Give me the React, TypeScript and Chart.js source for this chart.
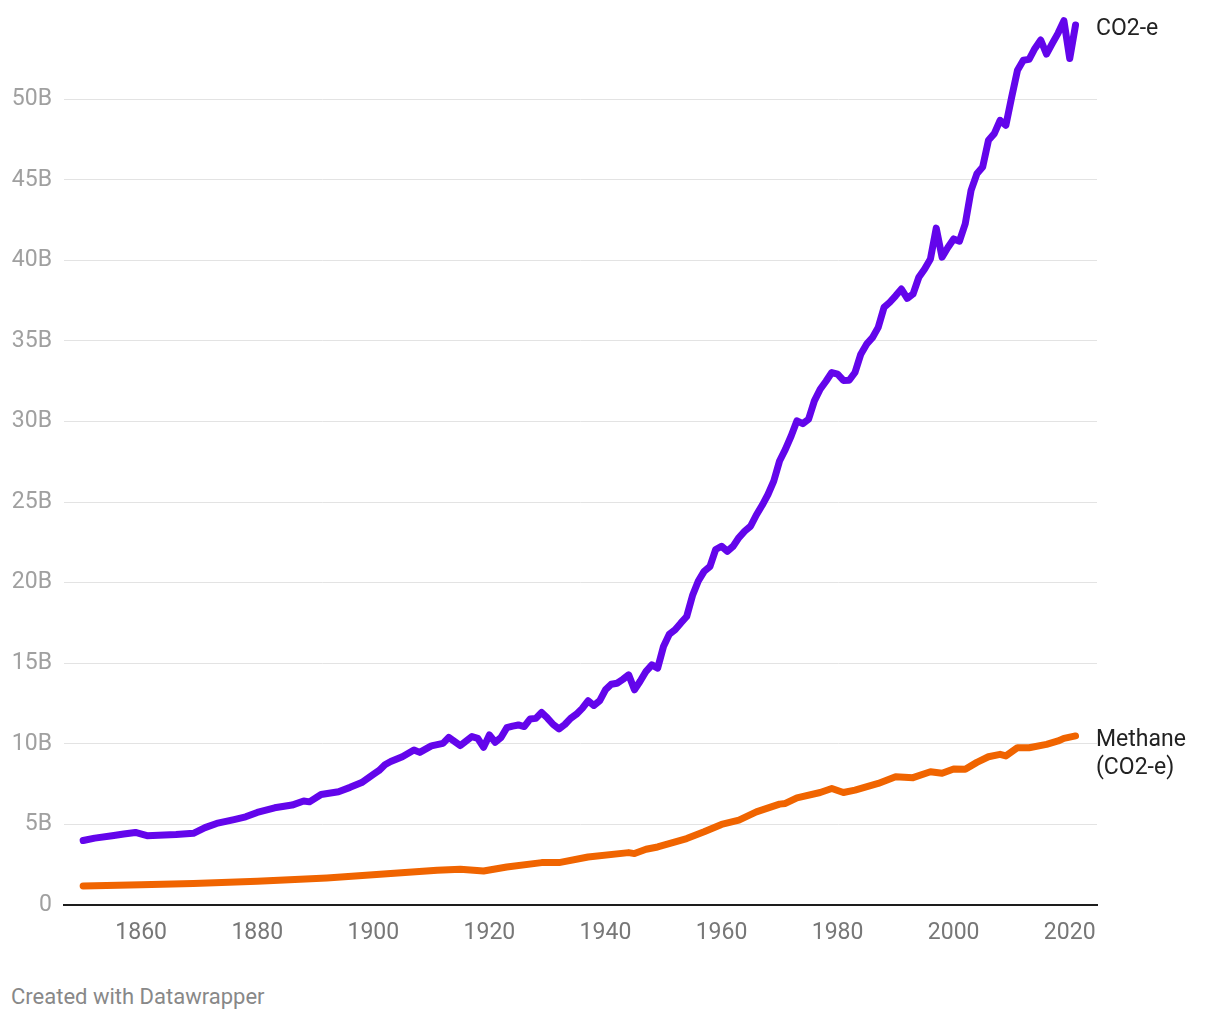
import React, { useEffect, useRef } from "react";
import { Chart, registerables } from "chart.js";

Chart.register(...registerables);

const co2Years = [
  1850, 1852, 1855, 1857, 1859, 1861, 1864, 1866, 1869, 1871, 1873, 1876, 1878, 1880, 1883, 1886, 1888, 1889,
  1891, 1894, 1896, 1898, 1900, 1901, 1902, 1903, 1905, 1907, 1908, 1910, 1912, 1913, 1915, 1917, 1918, 1919,
  1920, 1921, 1922, 1923, 1924, 1925, 1926, 1927, 1928, 1929, 1930, 1931, 1932, 1933, 1934, 1935, 1936, 1937,
  1938, 1939, 1940, 1941, 1942, 1943, 1944, 1945, 1946, 1947, 1948, 1949, 1950, 1951, 1952, 1953, 1954, 1955,
  1956, 1957, 1958, 1959, 1960, 1961, 1962, 1963, 1964, 1965, 1966, 1967, 1968, 1969, 1970, 1971, 1972, 1973,
  1974, 1975, 1976, 1977, 1978, 1979, 1980, 1981, 1982, 1983, 1984, 1985, 1986, 1987, 1988, 1989, 1990, 1991,
  1992, 1993, 1994, 1995, 1996, 1997, 1998, 1999, 2000, 2001, 2002, 2003, 2004, 2005, 2006, 2007, 2008, 2009,
  2010, 2011, 2012, 2013, 2014, 2015, 2016, 2017, 2018, 2019, 2020, 2021,
];
const co2Values = [
  4.0, 4.15, 4.3, 4.4, 4.5, 4.3, 4.35, 4.38, 4.45, 4.8, 5.06, 5.3, 5.47, 5.74, 6.03, 6.2, 6.45, 6.4,
  6.86, 7.03, 7.3, 7.6, 8.1, 8.35, 8.7, 8.9, 9.2, 9.62, 9.47, 9.87, 10.03, 10.4, 9.89, 10.45, 10.34, 9.78,
  10.55, 10.1, 10.39, 11.0, 11.1, 11.17, 11.07, 11.54, 11.58, 11.95, 11.6, 11.2, 10.93, 11.2, 11.58, 11.84, 12.2, 12.67,
  12.38, 12.67, 13.35, 13.7, 13.76, 14.0, 14.28, 13.35, 13.9, 14.5, 14.9, 14.7, 16.04, 16.8, 17.08, 17.5, 17.9, 19.2,
  20.1, 20.7, 21.0, 22.06, 22.26, 21.95, 22.26, 22.8, 23.2, 23.5, 24.2, 24.8, 25.47, 26.3, 27.55, 28.27, 29.1, 30.04,
  29.87, 30.14, 31.28, 32.0, 32.5, 33.04, 32.94, 32.55, 32.56, 33.04, 34.18, 34.8, 35.2, 35.84, 37.08, 37.4, 37.8, 38.22,
  37.64, 37.91, 38.95, 39.47, 40.09, 42.0, 40.2, 40.8, 41.33, 41.19, 42.27, 44.34, 45.37, 45.79, 47.45, 47.86, 48.69, 48.38,
  50.14, 51.8, 52.42, 52.47, 53.15, 53.67, 52.8, 53.46, 54.1, 54.87, 52.52, 54.6,
];

const methaneYears = [
  1850, 1860, 1869, 1880, 1892, 1903, 1911, 1915, 1919, 1923, 1929, 1932, 1937, 1944, 1945, 1947, 1949, 1954,
  1957, 1960, 1963, 1966, 1970, 1971, 1973, 1977, 1979, 1981, 1983, 1987, 1990, 1993, 1996, 1998, 2000, 2002,
  2004, 2006, 2008, 2009, 2011, 2013, 2016, 2018, 2019, 2021,
];
const methaneValues = [
  1.18, 1.25, 1.33, 1.48, 1.68, 1.95, 2.16, 2.22, 2.11, 2.36, 2.63, 2.63, 2.98, 3.25, 3.19, 3.46, 3.6, 4.12,
  4.54, 5.0, 5.27, 5.78, 6.26, 6.3, 6.65, 6.98, 7.23, 6.98, 7.13, 7.54, 7.96, 7.9, 8.27, 8.17, 8.44, 8.42,
  8.85, 9.2, 9.35, 9.25, 9.76, 9.76, 9.97, 10.18, 10.34, 10.49,
];

const seriesLabels = [["CO2-e"], ["Methane", "(CO2-e)"]];
const seriesColors = ["#6305eb", "#f06400"];
const xTicks = [1860, 1880, 1900, 1920, 1940, 1960, 1980, 2000, 2020];
const yTicks = [0, 5, 10, 15, 20, 25, 30, 35, 40, 45, 50];

const FONT = "Roboto, 'Noto Sans', sans-serif";

export default function App() {
  const ref = useRef<HTMLCanvasElement | null>(null);

  useEffect(() => {
    document.body.style.margin = "0";
    const canvas = ref.current;
    if (!canvas) return;

    const endLabels = {
      id: "endLabels",
      afterDatasetsDraw(chart: any) {
        const ctx = chart.ctx;
        const ys = chart.scales.y;
        ctx.save();
        ctx.font = `23px ${FONT}`;
        ctx.fillStyle = "#222";
        ctx.textAlign = "left";
        ctx.textBaseline = "middle";
        chart.data.datasets.forEach((ds: any, i: number) => {
          const last = ds.data[ds.data.length - 1];
          const y0 = ys.getPixelForValue(last.y) + 4;
          const x0 = chart.chartArea.right - 1;
          seriesLabels[i].forEach((line, j) => {
            ctx.fillText(line, x0, y0 + j * 28);
          });
        });
        ctx.restore();
      },
    };

    const chart = new Chart(canvas, {
      type: "line",
      data: {
        datasets: [
          {
            label: "CO2-e",
            data: co2Years.map((x, i) => ({ x, y: co2Values[i] })),
            borderColor: seriesColors[0],
            borderWidth: 7,
            pointRadius: 0,
            tension: 0,
            borderJoinStyle: "round",
            borderCapStyle: "round",
            clip: false,
          } as any,
          {
            label: "Methane (CO2-e)",
            data: methaneYears.map((x, i) => ({ x, y: methaneValues[i] })),
            borderColor: seriesColors[1],
            borderWidth: 7,
            pointRadius: 0,
            tension: 0,
            borderJoinStyle: "round",
            borderCapStyle: "round",
            clip: false,
          } as any,
        ],
      },
      options: {
        animation: false,
        responsive: false,
        maintainAspectRatio: false,
        events: [],
        layout: { padding: { top: 18.6, right: 123, left: 0, bottom: 0 } },
        plugins: { legend: { display: false }, tooltip: { enabled: false } },
        scales: {
          x: {
            type: "linear",
            min: 1846.7,
            max: 2024.7,
            afterBuildTicks: (s: any) => {
              s.ticks = xTicks.map((v) => ({ value: v }));
            },
            afterFit: (s: any) => {
              s.height = 55;
              s.paddingLeft = 0;
              s.paddingRight = 0;
            },
            grid: { display: false, drawTicks: false },
            border: { display: true, color: "#1d1d1d", width: 2 },
            ticks: {
              color: "#777",
              font: { family: FONT, size: 23 },
              padding: 14,
              maxRotation: 0,
              callback: (v: any) => String(v),
            },
          },
          y: {
            type: "linear",
            min: 0,
            max: 55,
            afterBuildTicks: (s: any) => {
              s.ticks = yTicks.map((v) => ({ value: v }));
            },
            afterFit: (s: any) => {
              s.width = 64;
              s.paddingTop = 0;
              s.paddingBottom = 0;
            },
            grid: {
              color: (c: any) => (c.tick && c.tick.value === 0 ? "rgba(0,0,0,0)" : "#e3e3e3"),
              lineWidth: 1,
              drawTicks: false,
            },
            border: { display: false },
            ticks: {
              color: "#a0a0a0",
              font: { family: FONT, size: 23 },
              padding: 12,
              callback: (v: any) => (v === 0 ? "0" : `${v}B`),
            },
          },
        },
      },
      plugins: [endLabels],
    } as any);

    return () => chart.destroy();
  }, []);

  return (
    <div style={{ position: "relative", width: 1220, height: 1020, background: "#fff" }}>
      <canvas ref={ref} width={1220} height={960} style={{ display: "block", width: 1220, height: 960 }} />
      <div
        style={{
          position: "absolute",
          left: 11,
          top: 983,
          fontFamily: FONT,
          fontSize: 22,
          color: "#888",
          lineHeight: "28px",
          whiteSpace: "nowrap",
        }}
      >
        Created with Datawrapper
      </div>
    </div>
  );
}
